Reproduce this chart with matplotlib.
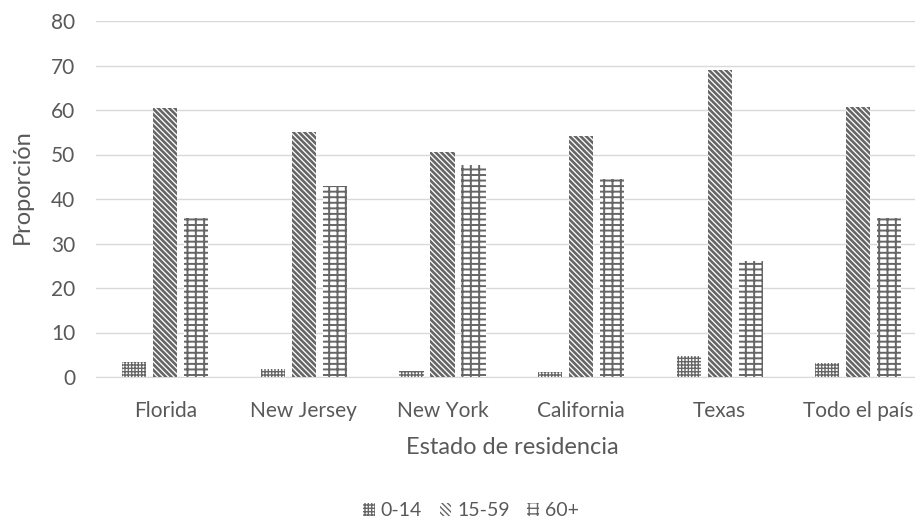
import matplotlib.pyplot as plt
import numpy as np

plt.rcParams['font.family'] = ['Lato', 'DejaVu Sans']

categories = ['Florida', 'New Jersey', 'New York', 'California', 'Texas', 'Todo el país']
series_names = ['0-14', '15-59', '60+']
age_0_14 = [3.3, 1.8, 1.4, 1.1, 4.7, 3.1]
age_15_59 = [60.5, 55.1, 50.5, 54.1, 69.0, 60.7]
age_60_plus = [35.7, 43.0, 47.6, 44.4, 26.1, 35.7]

text_color = '#595959'
hatch_color = '#666666'

W, H = 915, 521
fig = plt.figure(figsize=(W / 100, H / 100), dpi=100)
# plot area runs slightly past the right edge of the canvas
ax_left, ax_right, ax_top, ax_bottom = 96, 915, 21, 377
ax = fig.add_axes([ax_left / W, 1 - ax_bottom / H, (ax_right - ax_left) / W, (ax_bottom - ax_top) / H])

x = np.arange(len(categories))
width = 0.175
step = 0.224
hatches = ['+++++', '\\\\\\\\\\\\', '++-']
hatch_lw = [1.0, 1.9, 1.4]
data = [age_0_14, age_15_59, age_60_plus]
for i, (vals, name, h, lw) in enumerate(zip(data, series_names, hatches, hatch_lw)):
    with plt.rc_context({'hatch.linewidth': lw}):
        bars = ax.bar(x + (i - 1) * step, vals, width, facecolor='white', edgecolor=hatch_color,
                      linewidth=0, hatch=h, label=name, zorder=3)
        for b in bars:
            if hasattr(b, 'set_hatch_linewidth'):
                b.set_hatch_linewidth(lw)

px_per_cat = 138.6
ax.set_xlim(-0.5, -0.5 + (ax_right - ax_left) / px_per_cat)
ax.set_ylim(0, 80)
ax.set_yticks(range(0, 81, 10))
ax.grid(axis='y', color='#d9d9d9', linewidth=1, zorder=0)
ax.set_xticks(x)
ax.set_xticklabels(categories)
ax.tick_params(axis='both', length=0, colors=text_color, labelsize=15)
ax.tick_params(axis='x', pad=17)
ax.tick_params(axis='y', pad=15)
for s in ['top', 'right', 'left']:
    ax.spines[s].set_visible(False)
ax.spines['bottom'].set_color('#d9d9d9')

fig.text(512 / W, 1 - 447 / H, 'Estado de residencia', fontsize=17, color=text_color,
         ha='center', va='center')
fig.text(22 / W, 1 - 187 / H, 'Proporción', fontsize=17, color=text_color,
         ha='center', va='center', rotation=90)

leg = fig.legend(loc='center', bbox_to_anchor=(471 / W, 1 - 511 / H), ncol=3,
                 frameon=False, fontsize=14, handlelength=0.6, handleheight=0.6,
                 handletextpad=0.3, columnspacing=0.9)
for t in leg.get_texts():
    t.set_color(text_color)

fig.savefig('out.png', dpi=100, facecolor='white')
